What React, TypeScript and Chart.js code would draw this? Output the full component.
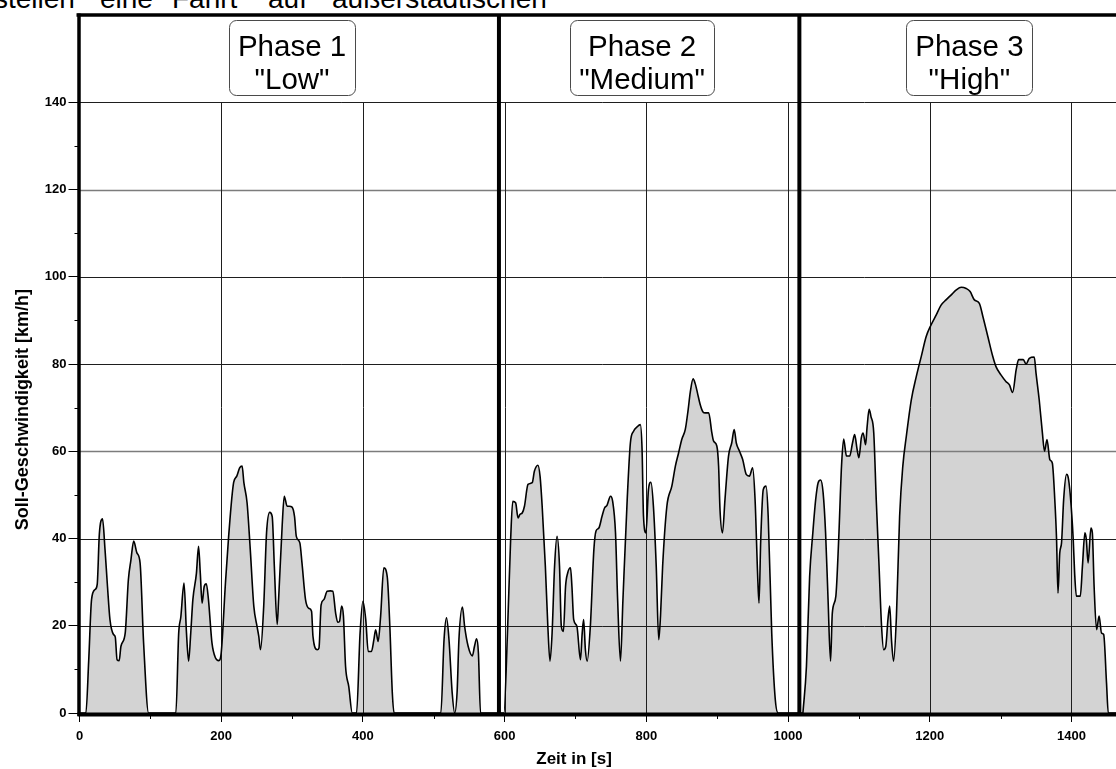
import React, { useEffect, useRef } from 'react';
import { Chart, registerables } from 'chart.js';

Chart.register(...registerables);

// ---- Data ----
const lowTime = [0, 9, 13, 17, 22, 25, 28, 32.5, 36, 39.5, 43, 48, 50.5, 53, 56, 58.5, 64.5, 69, 72.5, 76.5, 81, 85.5, 90.5, 97.5,
  136, 140, 143, 147.5, 151, 154, 157, 160, 165, 168, 170.5, 173, 176, 179, 182, 187, 192, 196.5, 200, 206, 210.5, 217.5, 222, 226, 229.5,
  232, 236.5, 241, 246, 250.5, 253, 255.5, 260, 264, 268.5, 272, 275, 279, 281, 286, 289, 293, 296, 300, 303.5, 306, 311, 314, 319,
  323.5, 327.5, 329.5, 335.5, 338, 341, 345, 349.5, 354, 357.5, 361.5, 364.5, 367, 370, 372.5, 375.5, 380, 385,
  391, 396, 400, 404, 407.5, 412, 415.5, 418, 421.5, 425, 429.5, 434.5, 438, 441.5, 444,
  510, 514.5, 518, 521.5, 526, 529.5, 533, 535.5, 540.5, 543.5, 548.5, 554.5, 557.5, 560.5, 563, 566, 590];
const lowSpeed = [0, 0, 12, 26, 28.3, 29.5, 41, 44.5, 37.5, 29, 21.4, 18, 17.4, 12.2, 12, 15.3, 18.3, 30.6, 35, 39.4, 36.7, 34.4, 16, 0,
  0, 18.3, 22, 29.8, 18.3, 11.9, 18.3, 26, 32, 38.2, 32, 25.2, 29, 29.6, 26, 16, 12.6, 12, 13.8, 29.8, 40.5, 52.8, 54.3, 56.2, 56.6,
  52.8, 48.2, 37.5, 24.5, 19.9, 17.6, 14.5, 24.5, 41.3, 46, 45, 33.6, 20.3, 26, 42.8, 49.7, 47.4, 47.4, 47.2, 45, 40.5, 39, 34.4, 26,
  24, 23.3, 17.6, 14.5, 14.9, 24.8, 26, 27.9, 28, 27.9, 22.9, 20.8, 21, 24.5, 22.2, 10.7, 6.1, 0,
  0, 18.3, 25.6, 21.4, 14.1, 14.1, 16.8, 19.1, 16.4, 22.2, 33.3, 31, 19.9, 4.6, 0,
  0, 16.8, 21.8, 16.8, 4.6, 0, 5, 16.8, 24.3, 19.9, 15.3, 13.1, 15.3, 17, 13.8, 0, 0];

const mediumTime = [590, 599, 604, 608.5, 611.5, 615.5, 619, 621.5, 625, 628, 633, 639, 642, 647, 650, 653, 657.5, 661, 664, 667,
  670.5, 674, 677.5, 680, 683, 686, 689, 693, 695, 697.5, 702, 707, 709.5, 711.5, 714, 716.5, 721, 726, 729, 733, 737.5, 741, 744.5,
  749.5, 752.5, 756.5, 759.5, 763.5, 767, 773, 777.5, 782, 787, 791.5, 794, 796, 799.5, 803, 806.5, 810, 814, 817.5, 820, 823, 829,
  836, 841, 845.5, 850, 855, 859, 862, 866, 869, 872, 876, 880, 883, 888, 892.5, 895, 899.5, 902, 904, 907.5, 911, 916, 920.5, 924,
  927, 931.5, 936, 941, 945.5, 950, 953.5, 957, 959, 961.5, 965, 969, 972, 977, 982, 986, 1021];
const mediumSpeed = [0, 0, 18.3, 39.8, 48.5, 48.2, 44.7, 45.5, 45.9, 47.4, 52.4, 52.8, 55.4, 56.8, 54.3, 47.4, 33.6, 19.9, 11.9, 18.3,
  33.6, 40.5, 33.6, 19.9, 18.7, 29, 32.1, 33.3, 29, 21.4, 19.9, 12.2, 18.3, 21.4, 14.5, 11.9, 19.9, 37.5, 41.7, 42.4, 45.1, 47, 47.6,
  49.7, 48.5, 41.3, 26, 11.9, 26, 48.9, 61.9, 64.6, 65.6, 66.1, 60.4, 45.1, 41.3, 51.2, 52.9, 47.4, 33.6, 16.8, 22.2, 33.6, 47.4,
  52, 56.6, 59.6, 62.7, 65, 69.5, 73.5, 76.6, 75.5, 73.5, 70.7, 69, 68.8, 68.8, 64.2, 62.3, 61.2, 56.6, 46.6, 41.3, 48.9, 58.9, 61.9, 65,
  61.9, 60, 58.1, 54.7, 54.3, 56.2, 48.9, 32.1, 25.2, 39.8, 51.2, 52, 45.1, 18.3, 3.1, 0, 0];

const highTime = [1021, 1026, 1030.5, 1035, 1039, 1042.5, 1046, 1049.5, 1053, 1056.5, 1060, 1062.5, 1067.5, 1071.5, 1075.5, 1078.5,
  1082.5, 1087, 1091, 1094, 1097.5, 1100, 1103.5, 1106, 1109.5, 1111.5, 1114.5, 1117, 1121, 1124.5, 1128.5, 1132, 1135, 1138, 1141,
  1143.5, 1146, 1149, 1153, 1157.5, 1162, 1167, 1174, 1181, 1188, 1195, 1202, 1209, 1216, 1223, 1230, 1237.5, 1244.5, 1251.5, 1257,
  1263, 1270, 1275, 1282, 1289, 1293.5, 1300.5, 1307.5, 1312.5, 1317, 1322, 1325.5, 1332, 1336, 1340.5, 1347.5, 1350, 1354.5, 1359,
  1362, 1365.5, 1369.5, 1373, 1376.5, 1379, 1381, 1383.5, 1386, 1389, 1393, 1395, 1398.5, 1402.5, 1404.5, 1407, 1412.5, 1415.5, 1419,
  1421, 1423.5, 1427.5, 1429.5, 1432, 1435.5, 1439, 1442.5, 1445.5, 1449.5, 1452, 1477];
const highSpeed = [0, 10.7, 31.3, 41.3, 48.9, 52.8, 53.4, 50.5, 41.3, 26, 11.9, 22.9, 26.8, 39.8, 56.6, 62.8,
  58.9, 58.9, 61.9, 63.8, 60.4, 58.5, 63.1, 64.2, 61.5, 65.4, 69.6, 68, 64.2, 48.9, 33.6, 19.9, 14.5, 15.3, 21.4,
  24.5, 16.8, 11.9, 22.2, 45.1, 56.6, 63.5, 71.8, 77.1, 81.7, 86.3, 89, 91.2, 93.5, 94.7, 95.8, 97, 97.6, 97.3, 96.6,
  94.7, 93.9, 90.9, 86.3, 81.7, 79.4, 77.5, 76, 75.2, 73.5, 78.7, 81, 81, 80, 81.3, 81.6, 77.9, 71.8, 64.2,
  60, 62.7, 58.1, 57.3, 48.9, 39.8, 27.5, 36.7, 39, 48.9, 54.7, 54.3, 49.7, 39.8, 32.1, 26.8, 26.8, 33.6, 41.3,
  39.8, 34.4, 42.4, 41.3, 29, 19.1, 22.2, 18.3, 18, 6.9, 0, 0];

const phaseNames = ['Phase 1', 'Phase 2', 'Phase 3'];
const phaseSubtitles = ['"Low"', '"Medium"', '"High"'];
const phaseLabelCenters = [300, 794, 1256];
const phaseBoundaries = [592, 1016];

const yTickLabels = [0, 20, 40, 60, 80, 100, 120, 140];
const xTickLabels = [0, 200, 400, 600, 800, 1000, 1200, 1400];

const xTitle = 'Zeit in [s]';
const yTitle = 'Soll-Geschwindigkeit [km/h]';
const headerWords = ['stellen', 'eine', 'Fahrt', 'auf', 'außerstädtischen'];

const FONT = '"Liberation Sans", Arial, Helvetica, sans-serif';

const toPoints = (t: number[], v: number[]) => t.map((x, i) => ({ x, y: v[i] }));

const CANVAS_W = 1140;
const CANVAS_H = 769;

export default function App() {
  const ref = useRef<HTMLCanvasElement | null>(null);

  useEffect(() => {
    if (!ref.current) return;
    const isMajorY = (v: number) => yTickLabels.includes(v);
    const isMajorX = (v: number) => xTickLabels.includes(v);

    const decor = {
      id: 'decor',
      beforeDatasetsDraw(chart: any) {
        const { ctx, chartArea: a, scales } = chart;
        const xs = scales.x, ys = scales.y;
        ctx.save();
        for (let v = 20; v <= 140; v += 20) {
          const y = Math.round(ys.getPixelForValue(v)) + 0.5;
          ctx.beginPath();
          ctx.strokeStyle = v === 60 || v === 120 ? '#7c7c7c' : '#1e1e1e';
          ctx.lineWidth = v === 60 || v === 120 ? 1.5 : 1;
          ctx.moveTo(a.left, y);
          ctx.lineTo(a.right, y);
          ctx.stroke();
        }
        const yTop = ys.getPixelForValue(140);
        const yBot = ys.getPixelForValue(0);
        for (let t = 200; t <= 1400; t += 200) {
          const x = Math.round(xs.getPixelForValue(t)) + 0.5;
          ctx.beginPath();
          ctx.strokeStyle = '#1e1e1e';
          ctx.lineWidth = 1;
          ctx.moveTo(x, yTop);
          ctx.lineTo(x, yBot);
          ctx.stroke();
        }
        ctx.restore();
      },
      afterDatasetsDraw(chart: any) {
        const { ctx, chartArea: a, scales } = chart;
        const xs = scales.x, ys = scales.y;
        ctx.save();
        ctx.strokeStyle = '#000';
        ctx.lineWidth = 4;
        for (const b of phaseBoundaries) {
          const x = xs.getPixelForValue(b);
          ctx.beginPath();
          ctx.moveTo(x, a.top);
          ctx.lineTo(x, a.bottom);
          ctx.stroke();
        }
        ctx.lineWidth = 3.5;
        ctx.beginPath();
        ctx.moveTo(a.left - 3, a.top);
        ctx.lineTo(a.right + 10, a.top);
        ctx.stroke();
        ctx.lineWidth = 3.5;
        ctx.beginPath();
        ctx.moveTo(a.left - 0.5, a.top - 1.5);
        ctx.lineTo(a.left - 0.5, a.bottom + 3);
        ctx.stroke();
        ctx.lineWidth = 4;
        ctx.beginPath();
        ctx.moveTo(a.left - 2, a.bottom + 1.5);
        ctx.lineTo(a.right + 10, a.bottom + 1.5);
        ctx.stroke();
        ctx.lineWidth = 1;
        for (let v = 10; v <= 130; v += 20) {
          const y = Math.round(ys.getPixelForValue(v)) + 0.5;
          ctx.beginPath();
          ctx.moveTo(a.left - 5, y);
          ctx.lineTo(a.left - 1, y);
          ctx.stroke();
        }
        for (let t = 100; t <= 1400; t += 200) {
          const x = Math.round(xs.getPixelForValue(t)) + 0.5;
          ctx.beginPath();
          ctx.moveTo(x, a.bottom + 2);
          ctx.lineTo(x, a.bottom + 6);
          ctx.stroke();
        }
        // phase label boxes
        ctx.font = `29.5px ${FONT}`;
        const boxTop = ys.getPixelForValue(158.8);
        const boxBot = ys.getPixelForValue(141.5);
        phaseNames.forEach((name, i) => {
          const cx = xs.getPixelForValue(phaseLabelCenters[i]);
          const w = Math.max(ctx.measureText(name).width, ctx.measureText(phaseSubtitles[i]).width) + 18;
          ctx.beginPath();
          ctx.fillStyle = '#fff';
          ctx.strokeStyle = '#4a4a4a';
          ctx.lineWidth = 1;
          (ctx as any).roundRect(Math.round(cx - w / 2) + 0.5, Math.round(boxTop) + 0.5, Math.round(w), Math.round(boxBot - boxTop), 7);
          ctx.fill();
          ctx.stroke();
          ctx.fillStyle = '#000';
          ctx.textAlign = 'center';
          ctx.textBaseline = 'alphabetic';
          ctx.fillText(name, cx, boxTop + 36);
          ctx.fillText(phaseSubtitles[i], cx, boxTop + 68.5);
        });
        // axis titles
        ctx.fillStyle = '#000';
        ctx.font = `bold 17px ${FONT}`;
        ctx.textAlign = 'center';
        ctx.textBaseline = 'alphabetic';
        ctx.fillText(xTitle, xs.getPixelForValue(698), 764);
        ctx.font = `bold 18px ${FONT}`;
        ctx.save();
        ctx.translate(28, (ys.getPixelForValue(0) + ys.getPixelForValue(140)) / 2 + 2);
        ctx.rotate(-Math.PI / 2);
        ctx.fillText(yTitle, 0, 0);
        ctx.restore();
        ctx.restore();
      },
    };

    const mkDs = (t: number[], v: number[]) => ({
      data: toPoints(t, v),
      borderColor: '#000',
      borderWidth: 1.6,
      backgroundColor: 'rgb(211,211,211)',
      fill: 'origin',
      pointRadius: 0,
      cubicInterpolationMode: 'monotone',
    });

    const chart = new Chart(ref.current, {
      type: 'line',
      data: {
        datasets: [mkDs(lowTime, lowSpeed), mkDs(mediumTime, mediumSpeed), mkDs(highTime, highSpeed)] as any,
      },
      options: {
        animation: false,
        responsive: false,
        devicePixelRatio: 1,
        layout: { padding: { top: 15, right: CANVAS_W - 1126, left: 0, bottom: 0 } },
        plugins: {
          legend: { display: false },
          tooltip: { enabled: false },
          filler: { drawTime: 'beforeDatasetsDraw' },
        } as any,
        scales: {
          x: {
            type: 'linear',
            min: 0,
            max: 1477,
            afterFit: (s: any) => { s.height = CANVAS_H - 713; },
            border: { display: false },
            grid: {
              display: true,
              drawOnChartArea: false,
              drawTicks: true,
              tickLength: 9,
              tickWidth: 1,
              tickColor: (c: any) => (c.tick && isMajorX(c.tick.value) ? '#000' : 'rgba(0,0,0,0)'),
            },
            ticks: {
              stepSize: 100,
              autoSkip: false,
              maxRotation: 0,
              includeBounds: false,
              padding: 7,
              color: '#000',
              font: { family: FONT, size: 13, weight: 'bold' },
              callback: (v: any) => (isMajorX(Number(v)) ? String(v) : ''),
            },
          },
          y: {
            type: 'linear',
            min: 0,
            max: 160,
            afterFit: (s: any) => { s.width = 79.5; },
            border: { display: false },
            grid: {
              display: true,
              drawOnChartArea: false,
              drawTicks: true,
              tickLength: 11,
              tickWidth: 1,
              tickColor: (c: any) => (c.tick && isMajorY(c.tick.value) ? '#000' : 'rgba(0,0,0,0)'),
            },
            ticks: {
              stepSize: 10,
              autoSkip: false,
              includeBounds: false,
              padding: 2,
              color: '#000',
              font: { family: FONT, size: 13, weight: 'bold' },
              callback: (v: any) => (isMajorY(Number(v)) ? String(v) : ''),
            },
          },
        },
      } as any,
      plugins: [decor],
    });
    return () => chart.destroy();
  }, []);

  const wordLeft = [-6, 100, 172, 268, 332];

  return (
    <div style={{ position: 'fixed', left: 0, top: 0, width: 1116, height: 769, overflow: 'hidden', background: '#fff' }}>
      {headerWords.map((w, i) => (
        <span
          key={w}
          style={{
            position: 'absolute',
            left: wordLeft[i],
            top: -15,
            fontFamily: FONT,
            fontSize: 28,
            lineHeight: '28px',
            color: '#000',
            whiteSpace: 'nowrap',
          }}
        >
          {w}
        </span>
      ))}
      <canvas
        ref={ref}
        width={CANVAS_W}
        height={CANVAS_H}
        style={{ position: 'absolute', left: 0, top: 0, width: CANVAS_W, height: CANVAS_H }}
      />
    </div>
  );
}
